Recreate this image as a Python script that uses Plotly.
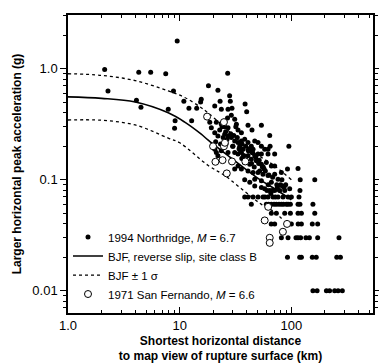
import plotly.graph_objects as go

# 1994 Northridge recordings (distance km, PGA g)
nr_dist = [2.13, 2.28, 4.3, 5.5, 7.5, 9.5, 4.1, 4.5, 8.8, 7.9, 9.1, 9.0, 10.9, 12.1, 12.8, 14.2, 15.4, 15.6,
           18.1, 22.0, 26.9, 23.0, 28.0, 28.4, 29.4, 29.0, 38.5, 39.8, 40.9, 44.4, 53.9, 64.0, 95, 64.5, 70.9,
           61.8, 53.9, 114.7, 120, 162, 119.4, 92.3, 81.4, 82.3, 117, 156, 162, 154, 172, 145, 172, 267,
           92.3, 118.7, 123, 154, 167, 255, 275, 156, 170, 206, 220, 244, 262, 286,
           121, 114.7, 115, 100, 123, 93.4, 81.4, 98, 93.4, 119.4, 114.7, 98, 114.7, 123, 66.2, 73.4, 87.2,
           20.6, 23.6, 27.1,
           18.6, 19.2, 21.3, 23.6, 25.3, 27.1, 31.1, 33.3, 35.7, 32.2,
           20.6, 22.0, 25.3, 27.1, 29.0, 31.1, 33.3, 35.7, 38.2, 40.9, 43.8, 47.0, 50.3, 53.9, 57.7, 61.8,
           36.9, 34.5, 45.4,
           20.6, 21.3, 22.0, 23.6, 27.1, 31.1, 33.3, 35.7, 40.9, 43.8, 47.0, 50.3, 38.2, 42.4, 48.6, 53.9,
           59.7, 66.2, 70.9, 33.3, 31.1,
           35.7, 40.9, 45.4, 50.3, 55.7, 61.8, 70.9, 38.2, 42.4, 47.0, 53.9, 66.2, 76.0,
           47.0, 53.9, 57.7, 64.0, 70.9, 78.6, 87.2, 96.6, 60.5, 67.5,
           38.2, 40.9, 45.4, 50.3, 55.7, 61.8, 68.5, 76.0, 84.2, 93.4, 100, 58.0, 72.0,
           43.8, 59.7, 66.2, 73.4, 81.4, 90.2, 62.5, 70.0, 77.5, 85.0,
           70.9, 90.2, 66.0, 93.0, 110, 135,
           24.5, 26.0, 30.0, 34.0, 37.5, 41.5, 44.0, 46.5, 49.0, 52.0, 56.0,
           22.8, 24.0, 25.8, 28.6, 30.5, 32.8, 36.2, 39.0, 42.0, 45.0, 48.0, 51.5, 55.0, 58.5,
           21.0, 23.2, 26.5, 29.8, 34.8, 37.0, 44.8, 51.0, 57.0, 63.0, 68.0, 74.0, 80.0, 86.0,
           26.8, 31.8, 36.0, 41.0, 62.0, 65.5, 75.0, 83.0, 89.0]
nr_pga = [0.98, 0.63, 0.93, 0.93, 0.90, 1.77, 0.52, 0.45, 0.63, 0.43, 0.34, 0.29, 0.51, 0.44, 0.34, 0.44, 0.50, 0.53,
          0.70, 0.64, 0.91, 0.51, 0.57, 0.51, 0.44, 0.38, 0.48, 0.41, 0.31, 0.28, 0.31, 0.25, 0.20, 0.20, 0.17,
          0.17, 0.17, 0.126, 0.10, 0.10, 0.08, 0.125, 0.116, 0.10, 0.07, 0.06, 0.05, 0.04, 0.04, 0.03, 0.03, 0.03,
          0.02, 0.02, 0.02, 0.02, 0.02, 0.02, 0.02, 0.01, 0.01, 0.01, 0.01, 0.01, 0.01, 0.01,
          0.03, 0.03, 0.04, 0.04, 0.04, 0.03, 0.03, 0.06, 0.06, 0.06, 0.06, 0.05, 0.05, 0.05, 0.05, 0.05, 0.05,
          0.46, 0.43, 0.43,
          0.33, 0.294, 0.33, 0.315, 0.30, 0.294, 0.35, 0.28, 0.265, 0.315,
          0.265, 0.248, 0.256, 0.248, 0.24, 0.223, 0.216, 0.223, 0.231, 0.216, 0.20, 0.223, 0.216, 0.20, 0.188, 0.188,
          0.188, 0.20, 0.188,
          0.188, 0.176, 0.164, 0.182, 0.176, 0.176, 0.17, 0.176, 0.164, 0.153, 0.164, 0.17, 0.143, 0.138, 0.148, 0.138,
          0.143, 0.133, 0.133, 0.133, 0.125,
          0.125, 0.12, 0.116, 0.116, 0.112, 0.109, 0.112, 0.10, 0.095, 0.101, 0.098, 0.095, 0.101,
          0.088, 0.085, 0.083, 0.08, 0.08, 0.08, 0.08, 0.083, 0.08, 0.08,
          0.07, 0.07, 0.07, 0.07, 0.07, 0.07, 0.07, 0.07, 0.07, 0.07, 0.07, 0.07, 0.07,
          0.06, 0.06, 0.06, 0.06, 0.06, 0.06, 0.06, 0.06, 0.06, 0.06,
          0.04, 0.04, 0.04, 0.04, 0.03, 0.03,
          0.24, 0.21, 0.20, 0.19, 0.165, 0.18, 0.14, 0.13, 0.15, 0.12, 0.13,
          0.28, 0.30, 0.27, 0.26, 0.25, 0.24, 0.21, 0.20, 0.19, 0.175, 0.16, 0.15, 0.13, 0.12,
          0.22, 0.21, 0.23, 0.20, 0.185, 0.16, 0.175, 0.14, 0.125, 0.11, 0.105, 0.09, 0.09, 0.085,
          0.36, 0.30, 0.155, 0.185, 0.09, 0.075, 0.085, 0.088, 0.09]

# 1971 San Fernando recordings
sf_dist = [17.6, 24.9, 19.9, 24.9, 25.4, 20.9, 24.2, 29.4, 38.7, 26.4, 62.0, 57.7, 84.0, 64.0, 64.0, 91.5]
sf_pga = [0.37, 0.33, 0.20, 0.20, 0.215, 0.145, 0.15, 0.146, 0.146, 0.114, 0.057, 0.043, 0.034, 0.030, 0.027, 0.040]

# BJF curves
bjf_dist = [1.0, 2.0, 4.0, 7.9, 11.1, 15.6, 17.9, 25.0, 35.7, 53.9, 70.9, 100]
bjf_med = [0.557, 0.54, 0.50, 0.40, 0.33, 0.257, 0.228, 0.175, 0.133, 0.098, 0.083, 0.066]
bjf_up = [0.90, 0.87, 0.78, 0.63, 0.55, 0.445, 0.40, 0.30, 0.216, 0.159, 0.133, 0.10]
low_dist = [1.0, 2.0, 4.0, 7.9, 10.0, 17.9, 25.3, 35.7, 53.9, 70.9, 85.0]
bjf_low = [0.345, 0.343, 0.311, 0.237, 0.215, 0.135, 0.109, 0.083, 0.060, 0.051, 0.043]

x_ticks = [1, 10, 100]
x_labels = ["1.0", "10", "100"]
y_ticks = [1, 0.1, 0.01]
y_labels = ["1.0", "0.1", "0.01"]

FONT = "Liberation Sans, Arial, sans-serif"

fig = go.Figure()
fig.add_trace(go.Scatter(x=nr_dist, y=nr_pga, mode="markers",
                         marker=dict(color="black", size=5),
                         name="1994 Northridge, <i>M</i> = 6.7"))
fig.add_trace(go.Scatter(x=bjf_dist, y=bjf_med, mode="lines", line=dict(color="black", width=1.6, shape="spline"),
                         name="BJF, reverse slip, site class B"))
fig.add_trace(go.Scatter(x=bjf_dist, y=bjf_up, mode="lines",
                         line=dict(color="black", width=1.3, dash="dot", shape="spline"),
                         name="BJF ± 1 σ", legendgroup="sig"))
fig.add_trace(go.Scatter(x=low_dist, y=bjf_low, mode="lines",
                         line=dict(color="black", width=1.3, dash="dot", shape="spline"),
                         name="BJF ± 1 σ", legendgroup="sig", showlegend=False))
fig.add_trace(go.Scatter(x=sf_dist, y=sf_pga, mode="markers",
                         marker=dict(color="white", size=7, line=dict(color="black", width=1)),
                         name="1971 San Fernando, <i>M</i> = 6.6"))

fig.update_layout(
    width=387, height=363,
    margin=dict(l=60, r=22, t=5, b=58),
    paper_bgcolor="white", plot_bgcolor="white",
    font=dict(family=FONT, size=12, color="black"),
    showlegend=True,
    legend=dict(x=0.0, y=0.015, xanchor="left", yanchor="bottom", bgcolor="rgba(0,0,0,0)",
                font=dict(size=11.5), itemwidth=30, tracegroupgap=0),
    xaxis=dict(type="log", range=[0, 2.731], tickvals=x_ticks, ticktext=x_labels,
               ticks="inside", ticklen=6, tickwidth=1, tickcolor="black",
               showline=True, linecolor="black", linewidth=1.5, mirror="allticks",
               showgrid=False, zeroline=False, tickfont=dict(size=13),
               minor=dict(ticks="inside", ticklen=3, dtick="D1", tickcolor="black", showgrid=False),
               title=dict(text="<b>Shortest horizontal distance<br>to map view of rupture surface (km)</b>",
                          font=dict(size=12), standoff=4)),
    yaxis=dict(type="log", range=[-2.2, 0.483], tickvals=y_ticks, ticktext=y_labels,
               ticks="outside", ticklen=6, tickwidth=1, tickcolor="black",
               showline=True, linecolor="black", linewidth=1.5, mirror="allticks",
               showgrid=False, zeroline=False, tickfont=dict(size=13),
               minor=dict(ticks="outside", ticklen=3, dtick="D1", tickcolor="black", showgrid=False),
               title=dict(text="<b>Larger horizontal peak acceleration (g)</b>",
                          font=dict(size=12), standoff=8)),
)

fig.write_html("out.html")
